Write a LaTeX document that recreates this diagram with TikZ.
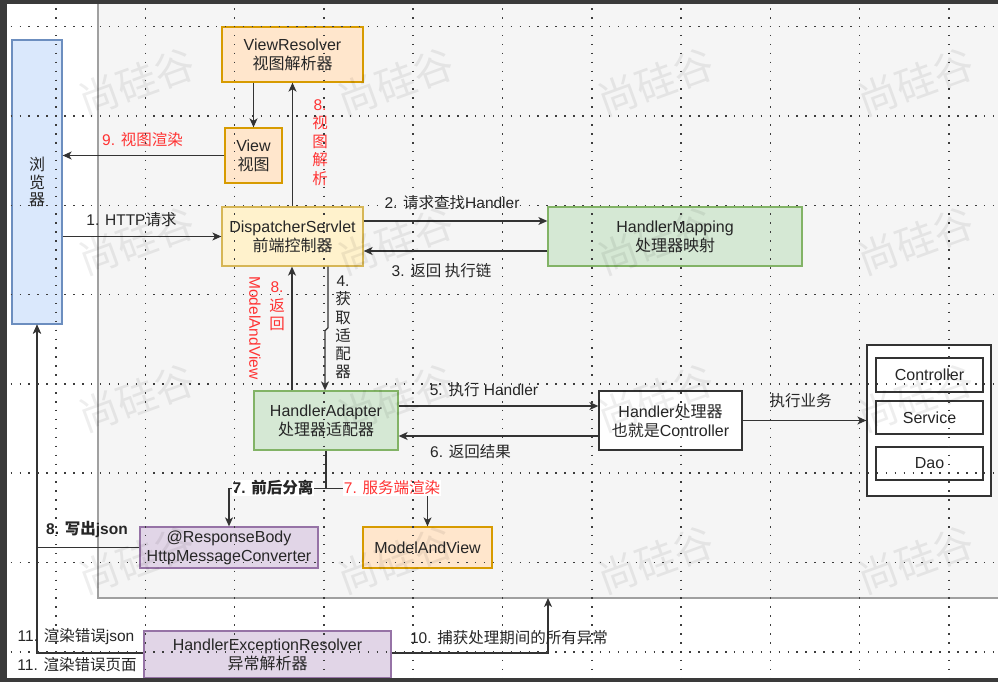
\documentclass[tikz,border=0pt]{standalone}
\usepackage{fontspec}
\setmainfont{Liberation Sans}
\newfontfamily\cjkf{Noto Sans CJK SC}
\newcommand\zh[1]{{\cjkf #1}}
\usetikzlibrary{arrows.meta}
\definecolor{framec}{HTML}{3A3A3A}
\definecolor{areabg}{HTML}{F5F5F5}
\definecolor{areab}{HTML}{A0A0A0}
\definecolor{txt}{HTML}{262626}
\definecolor{redt}{HTML}{FF3333}
\definecolor{linec}{HTML}{333333}
\definecolor{bluef}{HTML}{DAE8FC}\definecolor{blued}{HTML}{6C8EBF}
\definecolor{orangef}{HTML}{FFE6CC}\definecolor{oranged}{HTML}{D79B00}
\definecolor{yellowf}{HTML}{FFF2CC}\definecolor{yellowd}{HTML}{D6B656}
\definecolor{greenf}{HTML}{D5E8D4}\definecolor{greend}{HTML}{82B366}
\definecolor{purplef}{HTML}{E1D5E7}\definecolor{purpled}{HTML}{9673A6}
\definecolor{gridc}{HTML}{3C3C3C}
\tikzset{
 box/.style={draw, line width=1.3pt, align=center, inner sep=0pt, text=txt, font=\fontsize{16}{19}\selectfont},
 bluebox/.style={box, fill=bluef, draw=blued},
 orangebox/.style={box, fill=orangef, draw=oranged},
 yellowbox/.style={box, fill=yellowf, draw=yellowd},
 greenbox/.style={box, fill=greenf, draw=greend},
 purplebox/.style={box, fill=purplef, draw=purpled},
 whitebox/.style={box, fill=white, draw=linec},
 arr/.style={draw=linec, line width=1.2pt, -{Stealth[length=9pt,width=8pt,inset=2.5pt]}},
 ln/.style={draw=linec, line width=1.2pt},
 lbl/.style={text=txt, align=center, inner sep=1pt, font=\fontsize{15.5}{18}\selectfont},
 redl/.style={lbl, text=redt},
 stack/.style={align=center, inner sep=0pt, font=\fontsize{15.5}{18.5}\selectfont},
 wm/.style={font=\cjkf\fontsize{40}{40}\selectfont, rotate=20, text=black, text opacity=0.065, inner sep=0pt},
 gridl/.style={draw=gridc, line width=1.5pt, dash pattern=on 1.5pt off 7.43pt},
}
\begin{document}
\begin{tikzpicture}[x=1pt,y=-1pt]
\useasboundingbox (0,0) rectangle (998,682);
% frame and background
\fill[framec] (0,0) rectangle (998,682);
\fill[white] (7,4) rectangle (998,678);
\draw[fill=areabg, draw=areab, line width=1.5pt] (98,2) rectangle (1005,598);
\coordinate (gb) at (548,598);

% boxes
\node[bluebox, minimum width=50pt, minimum height=284pt, font=\fontsize{16}{17.5}\selectfont] (browser) at (37,182) {\zh{浏}\\\zh{览}\\\zh{器}};
\node[orangebox, minimum width=141pt, minimum height=55pt] (vr) at (292.5,54.5) {ViewResolver\\\zh{视图解析器}};
\node[orangebox, minimum width=57pt, minimum height=55pt] (view) at (253.5,155.5) {View\\\zh{视图}};
\node[yellowbox, minimum width=141pt, minimum height=59pt] (ds) at (292.5,236.5) {DispatcherServlet\\\zh{前端控制器}};
\node[greenbox, minimum width=254pt, minimum height=59pt] (hm) at (675,236.5) {HandlerMapping\\\zh{处理器映射}};
\node[greenbox, minimum width=144pt, minimum height=59pt] (ha) at (326,420.5) {HandlerAdapter\\\zh{处理器适配器}};
\node[whitebox, minimum width=143pt, minimum height=59pt] (hd) at (670.5,420.5) {Handler\zh{处理器}\\\zh{也就是}Controller};
\node[whitebox, minimum width=124pt, minimum height=151pt] (cont) at (929,420.5) {};
\node[whitebox, minimum width=107pt, minimum height=34pt] (ctrl) at (929.5,375) {Controller};
\node[whitebox, minimum width=107pt, minimum height=33pt] (svc) at (929.5,417.5) {Service};
\node[whitebox, minimum width=107pt, minimum height=33pt] (dao) at (929.5,463.5) {Dao};
\node[purplebox, minimum width=178pt, minimum height=41pt] (rb) at (229,547.5) {@ResponseBody\\HttpMessageConverter};
\node[orangebox, minimum width=129pt, minimum height=41pt] (mav) at (427.5,547.5) {ModelAndView};
\node[purplebox, minimum width=247pt, minimum height=47pt] (her) at (267.5,654.5) {HandlerExceptionResolver\\\zh{异常解析器}};

% connectors
\draw[arr] (view.north |- vr.south) -- (view.north);
\draw[arr] (ds.north) -- (vr.south);
\draw[arr] (view.west) -- (view.west -| browser.east);
\draw[arr] (ds.west -| browser.east) -- (ds.west);
\coordinate (p2) at ([yshift=15.5pt]ds.east);
\draw[arr] (p2) -- (p2 -| hm.west);
\coordinate (p3) at ([yshift=-14.5pt]hm.west);
\draw[arr] (p3) -- (p3 -| ds.east);
\coordinate (p8) at ([xshift=-34pt]ha.north);
\draw[arr] (p8) -- (p8 |- ds.south);
\draw[arr] ([xshift=35.5pt]ds.south) -- ++(0,61) -- ++(-3,3) -- ([xshift=-1pt]ha.north);
\coordinate (p5) at ([yshift=14.5pt]ha.east);
\draw[arr] (p5) -- (p5 -| hd.west);
\coordinate (p6) at ([yshift=-15.5pt]hd.west);
\draw[arr] (p6) -- (p6 -| ha.east);
\draw[arr] (hd.east) -- (cont.west);
\draw[ln] (ha.south) -- ++(0,37.5) coordinate (sp);
\draw[arr] (sp) -- (sp -| rb.north) -- (rb.north);
\draw[arr] (sp) -- (sp -| mav.north) -- (mav.north);
\draw[arr] (rb.west) -- (rb.west -| browser.south) -- (browser.south);
\draw[arr] ([yshift=1.5pt]her.west) -- ([yshift=1.5pt]her.west -| browser.south) -- (browser.south);
\draw[arr] ([yshift=1.5pt]her.east) -- ([yshift=1.5pt]her.east -| gb) -- (gb);

% labels
\node[redl] (l9) at (142.5,140) {9. \zh{视图渲染}};
\node[lbl] (l1) at (131.5,220) {1. HTTP\zh{请求}};
\node[stack, text=redt] (l8a) at (320,142.5) {8.\\\zh{视}\\\zh{图}\\\zh{解}\\\zh{析}};
\node[lbl] (l2) at (452,203) {2. \zh{请求查找}Handler};
\node[lbl] (l3) at (441.5,271) {3. \zh{返回 执行链}};
\node[stack, text=txt, font=\fontsize{15.5}{18.2}\selectfont] (l4) at (343,327.5) {4.\\\zh{获}\\\zh{取}\\\zh{适}\\\zh{配}\\\zh{器}};
\node[stack, text=redt] (l8b) at (277,306.5) {8.\\\zh{返}\\\zh{回}};
\node[redl, rotate=-90] (l8c) at (255,328) {ModelAndView};
\node[lbl] (l5) at (484,390) {5. \zh{执行} Handler};
\node[lbl] (l6) at (470.5,452) {6. \zh{返回结果}};
\node[lbl] (lb) at (800.5,401) {\zh{执行业务}};
\node[lbl, fill=white, font=\bfseries\fontsize{15.5}{18}\selectfont] (l7a) at (273,488) {7. \zh{前后分离}};
\node[redl, fill=white] (l7b) at (392,488) {7. \zh{服务端渲染}};
\node[lbl, font=\bfseries\fontsize{15.5}{18}\selectfont] (l8d) at (87,529) {8. \zh{写出}json};
\node[lbl] (l11a) at (76,637) {11. \zh{渲染错误}json};
\node[lbl] (l11b) at (77,665) {11. \zh{渲染错误页面}};
\node[lbl] (l10) at (509,638) {10. \zh{捕获处理期间的所有异常}};

% watermarks
\foreach \wx in {137,396,656,916}{
  \foreach \wy in {82,241,398,560}{
    \node[wm] (wm-\wx-\wy) at (\wx,\wy) {\cjkf 尚硅谷};
  }
}

% grid
\begin{scope}
\clip (7,4) rectangle (998,678);
\foreach \i in {0,...,10} \draw[gridl] ({56+89.3*\i},-0.84) -- ({56+89.3*\i},690);
\foreach \j in {0,...,7} \draw[gridl] (-7.26,{26.7+89.3*\j}) -- (1010,{26.7+89.3*\j});
\end{scope}

% frame on top
\fill[framec] (0,0) rectangle (998,4);
\fill[framec] (0,0) rectangle (7,682);
\fill[framec] (0,678) rectangle (998,682);
\end{tikzpicture}
\end{document}
